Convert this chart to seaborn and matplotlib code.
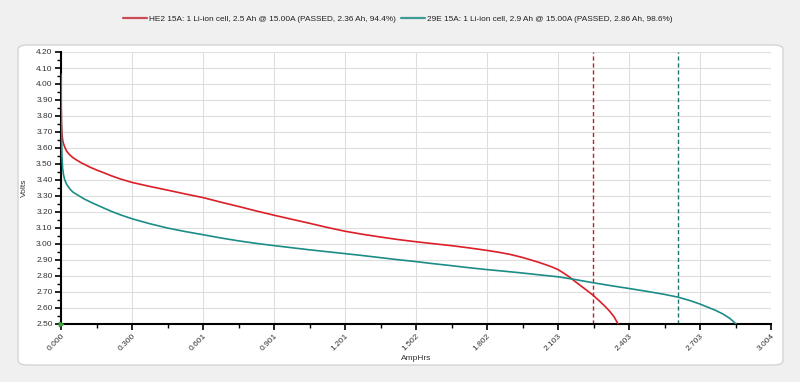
import matplotlib
matplotlib.use("Agg")
import matplotlib.pyplot as plt
from matplotlib.patches import FancyBboxPatch
from matplotlib.ticker import AutoMinorLocator, FixedLocator, FixedFormatter
import seaborn as sns
import pandas as pd

# ---------------- data ----------------
he2_label = "HE2 15A: 1 Li-ion cell, 2.5 Ah @ 15.00A (PASSED, 2.36 Ah, 94.4%)"
he2_ah = [0, 0.001, 0.002, 0.004, 0.007, 0.010, 0.016, 0.024, 0.035, 0.05, 0.066,
          0.085, 0.10, 0.123, 0.15, 0.178, 0.21, 0.25, 0.30, 0.375, 0.45, 0.525,
          0.601, 0.675, 0.75, 0.825, 0.901, 0.975, 1.05, 1.125, 1.201, 1.275,
          1.35, 1.425, 1.502, 1.575, 1.65, 1.725, 1.802, 1.85, 1.90, 1.95, 1.98,
          2.02, 2.05, 2.08, 2.103, 2.13, 2.15, 2.175, 2.20, 2.225, 2.251, 2.275,
          2.30, 2.32, 2.34, 2.357]
he2_v = [4.02, 3.85, 3.76, 3.69, 3.65, 3.63, 3.605, 3.58, 3.56, 3.54, 3.525,
         3.508, 3.497, 3.48, 3.463, 3.447, 3.428, 3.407, 3.385, 3.36, 3.337, 3.313,
         3.29, 3.262, 3.235, 3.207, 3.18, 3.155, 3.13, 3.104, 3.08, 3.061,
         3.044, 3.028, 3.014, 3.002, 2.99, 2.976, 2.96, 2.949, 2.935, 2.917, 2.904,
         2.886, 2.871, 2.855, 2.84, 2.815, 2.795, 2.766, 2.738, 2.71, 2.68, 2.648,
         2.613, 2.582, 2.545, 2.50]

e29_label = "29E 15A: 1 Li-ion cell, 2.9 Ah @ 15.00A (PASSED, 2.86 Ah, 98.6%)"
e29_ah = [0, 0.001, 0.002, 0.004, 0.007, 0.011, 0.016, 0.025, 0.037, 0.05, 0.066,
          0.10, 0.135, 0.17, 0.21, 0.25, 0.30, 0.375, 0.45, 0.525, 0.601, 0.675,
          0.75, 0.825, 0.901, 0.975, 1.05, 1.125, 1.201, 1.275, 1.35, 1.425,
          1.502, 1.575, 1.65, 1.725, 1.802, 1.875, 1.95, 2.025, 2.103, 2.175,
          2.251, 2.325, 2.403, 2.475, 2.55, 2.61, 2.66, 2.703, 2.74, 2.77, 2.80,
          2.83, 2.856]
e29_v = [4.06, 3.80, 3.68, 3.55, 3.47, 3.43, 3.40, 3.37, 3.345, 3.325, 3.31,
         3.28, 3.255, 3.232, 3.206, 3.183, 3.158, 3.127, 3.10, 3.078, 3.058, 3.038,
         3.02, 3.004, 2.99, 2.977, 2.964, 2.952, 2.94, 2.928, 2.915, 2.902,
         2.89, 2.877, 2.865, 2.852, 2.84, 2.83, 2.819, 2.807, 2.795, 2.778,
         2.758, 2.74, 2.722, 2.705, 2.686, 2.668, 2.647, 2.625, 2.603, 2.585, 2.563,
         2.535, 2.50]

cutoff_ah = [2.251, 2.610]

x_tick_values = [0.0, 0.3004, 0.6008, 0.9012, 1.2016, 1.502, 1.8024, 2.1028, 2.4032, 2.7036, 3.004]
x_tick_labels = ["0.000", "0.300", "0.601", "0.901", "1.201", "1.502", "1.802",
                 "2.103", "2.403", "2.703", "3.004"]
y_tick_values = [2.50, 2.60, 2.70, 2.80, 2.90, 3.00, 3.10, 3.20, 3.30, 3.40,
                 3.50, 3.60, 3.70, 3.80, 3.90, 4.00, 4.10, 4.20]
y_tick_labels = ["%.2f" % v for v in y_tick_values]

# ---------------- styling ----------------
sns.set_theme(style="white")
plt.rcParams["font.family"] = ["Liberation Sans", "DejaVu Sans"]

line_colors = {he2_label: "#dc1e26", e29_label: "#1b8c86"}
legend_colors = ["#cc4a52", "#3f9a96"]
cut_colors = ["#b8232b", "#1d7370"]

df = pd.concat([
    pd.DataFrame({"AmpHrs": he2_ah, "Volts": he2_v, "series": he2_label}),
    pd.DataFrame({"AmpHrs": e29_ah, "Volts": e29_v, "series": e29_label}),
])

fig = plt.figure(figsize=(8.0, 3.82), dpi=100, facecolor="#f0f0f0")

# white rounded panel
W, H = 800.0, 382.0
px0, py0, px1, py1 = 18, 45, 783, 365
panel = FancyBboxPatch((px0 / W, 1 - py1 / H), (px1 - px0) / W, (py1 - py0) / H,
                       boxstyle="round,pad=0,rounding_size=0.012",
                       transform=fig.transFigure, facecolor="white",
                       edgecolor="#d4d4d4", linewidth=1.0, zorder=-5)
fig.add_artist(panel)

ax = fig.add_axes([61 / W, 58 / H, 710 / W, 272 / H])
ax.set_zorder(2)
ax.set_facecolor("white")

sns.lineplot(data=df, x="AmpHrs", y="Volts", hue="series", palette=line_colors,
             sort=False, estimator=None, linewidth=1.2, ax=ax, legend=False,
             zorder=3)

for xc, cc in zip(cutoff_ah, cut_colors):
    ax.axvline(xc, color=cc, linewidth=1.0, linestyle=(0, (3, 2)), zorder=2)

ax.scatter([0], [2.5], marker=">", s=10, color="#3aa53a", zorder=5, clip_on=False)

ax.set_xlim(0, 3.004)
ax.set_ylim(2.5, 4.2)

ax.xaxis.set_major_locator(FixedLocator(x_tick_values))
ax.xaxis.set_major_formatter(FixedFormatter(x_tick_labels))
ax.yaxis.set_major_locator(FixedLocator(y_tick_values))
ax.yaxis.set_major_formatter(FixedFormatter(y_tick_labels))
ax.xaxis.set_minor_locator(AutoMinorLocator(2))
ax.yaxis.set_minor_locator(AutoMinorLocator(2))

ax.grid(True, which="major", color="#dedede", linewidth=0.8, zorder=0)
ax.set_axisbelow(True)

for s in ["top", "right"]:
    ax.spines[s].set_visible(False)
for s in ["left", "bottom"]:
    ax.spines[s].set_color("black")
    ax.spines[s].set_linewidth(1.5)

ax.tick_params(axis="both", which="major", direction="out", length=4, width=1.2,
               color="black", labelsize=6.0, labelcolor="#333333", pad=2,
               left=True, bottom=True)
ax.tick_params(axis="both", which="minor", direction="out", length=3, width=1.0,
               color="black", left=True, bottom=True)
for lab in ax.get_xticklabels():
    lab.set_rotation(45)
    lab.set_ha("right")
    lab.set_va("top")
    lab.set_rotation_mode("anchor")

ax.set_xlabel("AmpHrs", fontsize=6.0, color="#333333", labelpad=2)
ax.set_ylabel("Volts", fontsize=6.0, color="#333333", labelpad=6)

handles = [plt.Line2D([], [], color=c, linewidth=1.6) for c in legend_colors]
fig.legend(handles, [he2_label, e29_label], loc="center", bbox_to_anchor=(0.497, 0.95),
           ncol=2, frameon=False, fontsize=5.95, handlelength=2.9, handletextpad=0.25,
           columnspacing=0.6, labelcolor="#222222")

fig.savefig("out.png", dpi=100, facecolor=fig.get_facecolor())
